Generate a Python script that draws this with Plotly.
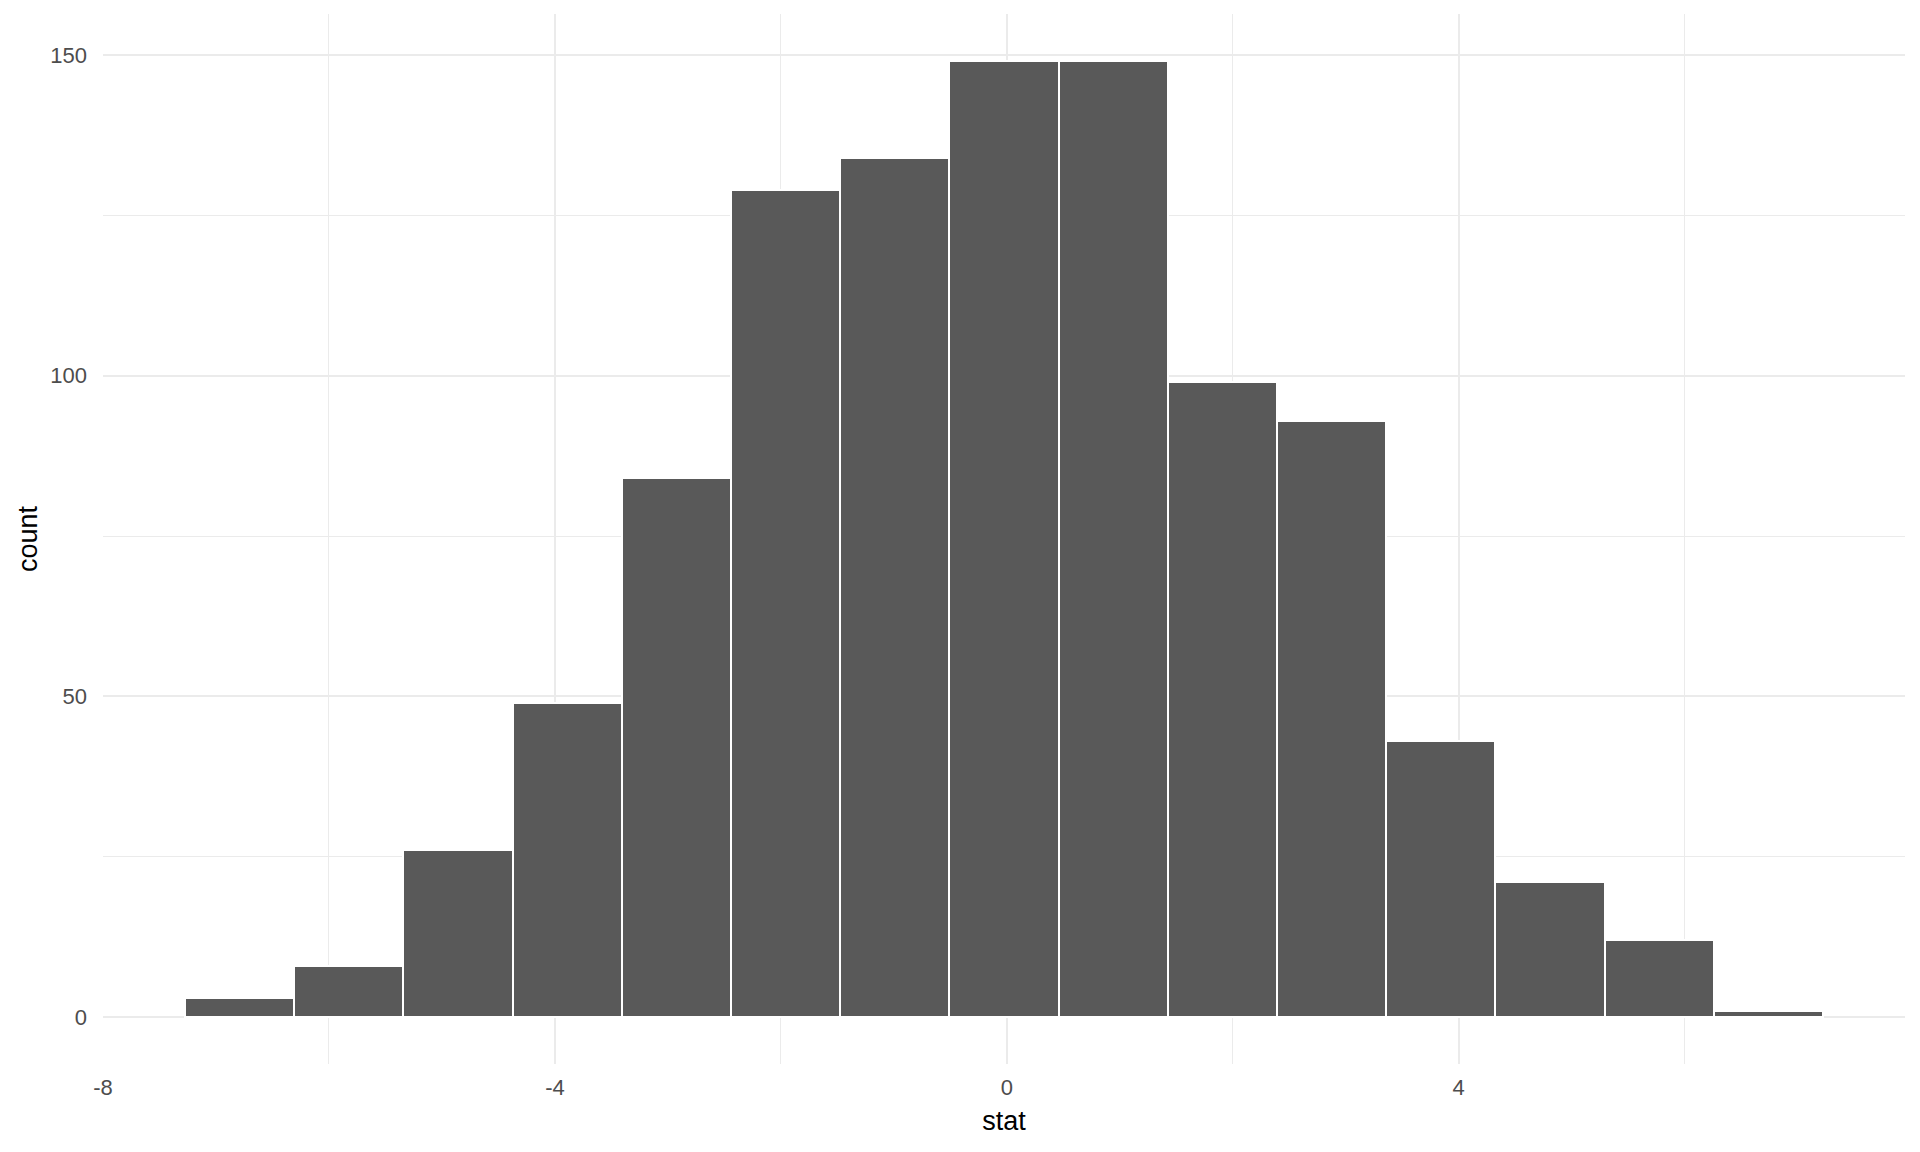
import plotly.graph_objects as go

# histogram of the null distribution, 15 bins
bin_centers = [-6.792, -5.825, -4.858, -3.892, -2.925, -1.958, -0.992, -0.025,
               0.942, 1.908, 2.875, 3.842, 4.808, 5.775, 6.742]
bin_width = 0.9667
counts = [3, 8, 26, 49, 84, 129, 134, 149, 149, 99, 93, 43, 21, 12, 1]

x_ticks = [-8, -4, 0, 4]
y_ticks = [0, 50, 100, 150]

FONT = "Liberation Sans, Arial, sans-serif"
GRID = "#EBEBEB"


def main():
    fig = go.Figure()

    fig.add_trace(
        go.Bar(
            x=bin_centers,
            y=counts,
            width=[bin_width] * len(counts),
            marker=dict(color="#595959", line=dict(color="white", width=2)),
            showlegend=False,
        )
    )

    # page body has an 8px margin, so the figure is a bit smaller than the window
    fig.update_layout(
        width=1912,
        height=1144,
        margin=dict(l=95, r=15, t=6, b=88),
        plot_bgcolor="white",
        paper_bgcolor="white",
        bargap=0,
        font=dict(family=FONT, color="#4D4D4D", size=22),
    )

    fig.update_xaxes(
        range=[-8.0, 7.95],
        tickvals=x_ticks,
        ticktext=[str(v) for v in x_ticks],
        showgrid=True,
        gridcolor=GRID,
        gridwidth=2,
        minor=dict(dtick=2, tick0=0, showgrid=True, gridcolor=GRID, gridwidth=1),
        zeroline=False,
        showline=False,
        ticks="",
        automargin=False,
        ticklabelstandoff=8,
        tickfont=dict(size=22, color="#4D4D4D"),
        title=dict(text="stat", font=dict(size=27, color="black"), standoff=12),
    )

    fig.update_yaxes(
        range=[-7.3, 156.4],
        tickvals=y_ticks,
        ticktext=[str(v) for v in y_ticks],
        showgrid=True,
        gridcolor=GRID,
        gridwidth=2,
        minor=dict(dtick=25, tick0=0, showgrid=True, gridcolor=GRID, gridwidth=1),
        zeroline=False,
        showline=False,
        ticks="",
        automargin=False,
        ticklabelstandoff=15,
        tickfont=dict(size=22, color="#4D4D4D"),
        title=dict(text="count", font=dict(size=27, color="black"), standoff=4),
    )

    fig.write_html("out.html")


if __name__ == "__main__":
    main()
